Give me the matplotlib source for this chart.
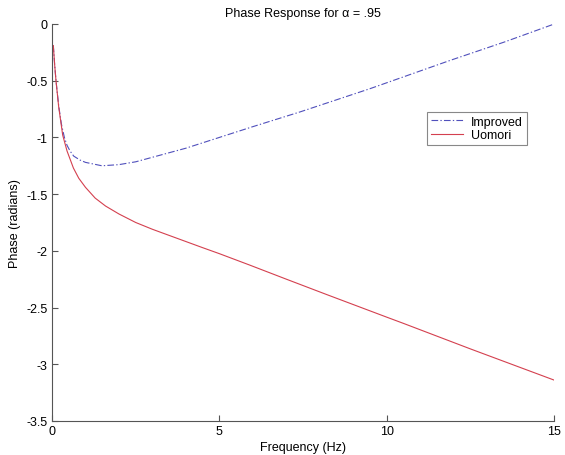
import matplotlib
matplotlib.use('Agg')
import numpy as np
import matplotlib.pyplot as plt

plt.rcParams['font.family'] = ['Liberation Sans', 'DejaVu Sans']

# values
freq_uomori = [0.04, 0.08, 0.12, 0.2, 0.32, 0.45, 0.64, 0.8, 1.0, 1.29, 1.6, 2.0,
               2.5, 3.0, 4.48, 5.0, 5.9, 7.0, 8.2, 10.0, 10.5, 12.5, 15.0]
phase_uomori = [-0.19, -0.36, -0.50, -0.73, -0.98, -1.12, -1.27, -1.36, -1.44, -1.535, -1.605, -1.675,
                -1.75, -1.81, -1.97, -2.025, -2.125, -2.25, -2.385, -2.585, -2.64, -2.865, -3.14]

freq_improved = [0.04, 0.08, 0.12, 0.2, 0.28, 0.37, 0.45, 0.54, 0.65, 0.84, 1.0, 1.49, 2.0,
                 2.5, 3.0, 4.0, 5.0, 6.0, 7.41, 9.5, 11.9, 13.5, 15.0]
phase_improved = [-0.19, -0.36, -0.50, -0.72, -0.88, -1.00, -1.07, -1.12, -1.165, -1.20, -1.22, -1.25, -1.24,
                  -1.215, -1.175, -1.095, -1.0, -0.905, -0.775, -0.57, -0.32, -0.16, 0.0]

xticks = [0, 5, 10, 15]
yticks = [0, -0.5, -1, -1.5, -2, -2.5, -3, -3.5]
ytick_labels = ['0', '-0.5', '-1', '-1.5', '-2', '-2.5', '-3', '-3.5']

fig = plt.figure(figsize=(5.65, 4.56), dpi=100)
ax = fig.add_axes([0.092, 0.0746, 0.889, 0.8706])

ax.plot(freq_improved, phase_improved, color='#5050bc', lw=0.8,
        linestyle=(0, (6, 2, 1.2, 2)), label='Improved')
ax.plot(freq_uomori, phase_uomori, color='#d4404f', lw=0.8, label='Uomori')

ax.set_xlim(0, 15)
ax.set_ylim(-3.5, 0)
ax.set_xticks(xticks)
ax.set_xticklabels([str(t) for t in xticks])
ax.set_yticks(yticks)
ax.set_yticklabels(ytick_labels)

for s in ['top', 'right']:
    ax.spines[s].set_visible(False)
for s in ['left', 'bottom']:
    ax.spines[s].set_color('#555555')
    ax.spines[s].set_linewidth(0.8)
ax.tick_params(direction='in', length=4, width=0.8, color='#555555', labelsize=9, pad=3)

ax.set_xlabel('Frequency (Hz)', fontsize=9, labelpad=3)
ax.set_ylabel('Phase (radians)', fontsize=9, labelpad=4)
ax.set_title('Phase Response for α = .95', fontsize=9, pad=6)

leg = ax.legend(loc='upper left', bbox_to_anchor=(0.747, 0.778), fontsize=9,
                fancybox=False, framealpha=1, edgecolor='#888888', borderaxespad=0,
                handlelength=2.6, borderpad=0.3, labelspacing=0.1, handletextpad=0.6)
leg.get_frame().set_linewidth(0.8)

fig.savefig('out.png', dpi=100)
